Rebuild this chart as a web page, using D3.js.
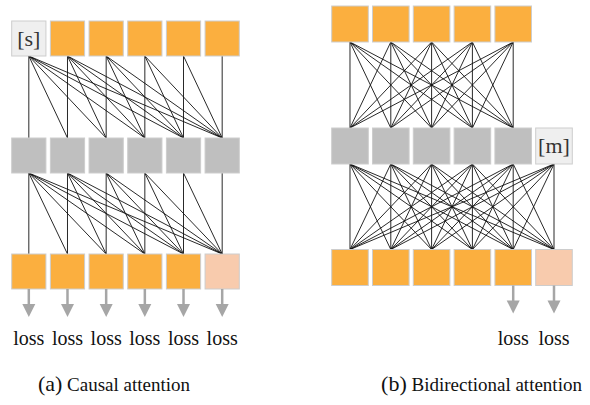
<!DOCTYPE html>
<html>
<head>
<meta charset="utf-8">
<script src="https://cdn.jsdelivr.net/npm/d3@7"></script>
<style>
  body { margin: 0; background: #fff; }
</style>
</head>
<body>
<svg width="590" height="405"></svg>
<script>
// box kinds per row: x = token (orange), s = start, m = mask, h = hidden (gray), p = predicted (peach)
const causalInput  = ['s', 'x', 'x', 'x', 'x', 'x'];
const causalHidden = ['h', 'h', 'h', 'h', 'h', 'h'];
const causalOutput = ['x', 'x', 'x', 'x', 'x', 'p'];
const causalLoss   = [true, true, true, true, true, true];

const bidirInput  = ['x', 'x', 'x', 'x', 'x'];
const bidirHidden = ['h', 'h', 'h', 'h', 'h', 'm'];
const bidirOutput = ['x', 'x', 'x', 'x', 'x', 'p'];
const bidirLoss   = [false, false, false, false, true, true];

const boxLabels = { s: '[s]', m: '[m]' };
const lossLabel = 'loss';
const captions = [['(a)', 'Causal attention'], ['(b)', 'Bidirectional attention']];

const fills = { x: '#FBAF3F', s: '#EFEFEF', m: '#EFEFEF', h: '#BFBFBF', p: '#F8CBAD' };
const serif = 'Liberation Serif';

const svg = d3.select('svg');

// draws one panel
function drawPanel(cfg) {
  const g = svg.append('g');
  const n = cfg.output.length;
  const x = d3.scaleBand().domain(d3.range(n)).range(cfg.xRange).paddingInner(cfg.pad);
  const bw = x.bandwidth();
  const cx = i => x(i) + bw / 2;
  const rows = [cfg.input, cfg.hidden, cfg.output];

  // attention links, drawn first so boxes sit on top
  const links = [];
  rows.slice(0, 2).forEach((row, r) => {
    const next = rows[r + 1];
    row.forEach((a, i) => {
      next.forEach((b, j) => {
        // hidden layer only receives from real tokens in bidirectional case
        if (r === 0 && b === 'm') return;
        if (cfg.causal && j < i) return;
        links.push({ x1: cx(i), y1: cfg.rowY[r] + cfg.bh, x2: cx(j), y2: cfg.rowY[r + 1] });
      });
    });
  });
  g.selectAll('line.link').data(links).enter().append('line')
    .attr('class', 'link')
    .attr('x1', d => d.x1).attr('y1', d => d.y1)
    .attr('x2', d => d.x2).attr('y2', d => d.y2)
    .attr('stroke', '#111').attr('stroke-width', 0.9);

  rows.forEach((row, r) => {
    const cells = row.map((k, i) => ({ k, i }));
    g.selectAll('rect.r' + r).data(cells).enter().append('rect')
      .attr('class', 'r' + r)
      .attr('x', d => x(d.i)).attr('y', cfg.rowY[r])
      .attr('width', bw).attr('height', cfg.bh)
      .attr('fill', d => fills[d.k])
      .attr('stroke', '#cdcdcd').attr('stroke-width', 1);
    g.selectAll('text.r' + r).data(cells.filter(d => boxLabels[d.k])).enter().append('text')
      .attr('class', 'r' + r)
      .attr('x', d => cx(d.i)).attr('y', cfg.rowY[r] + cfg.bh / 2 + 7)
      .attr('text-anchor', 'middle')
      .attr('font-family', serif)
      .attr('font-size', 22).attr('fill', '#333')
      .text(d => boxLabels[d.k]);
  });

  // loss arrows
  const lossIdx = cfg.loss.map((v, i) => v ? i : -1).filter(i => i >= 0);
  const yTop = cfg.rowY[2] + cfg.bh;
  const arrows = g.selectAll('g.arrow').data(lossIdx).enter().append('g').attr('class', 'arrow');
  arrows.append('line')
    .attr('x1', cx).attr('x2', cx)
    .attr('y1', yTop).attr('y2', yTop + 16)
    .attr('stroke', '#a6a6a6').attr('stroke-width', 2.5);
  arrows.append('path')
    .attr('d', i => `M${cx(i) - 6.5},${yTop + 15} L${cx(i) + 6.5},${yTop + 15} L${cx(i)},${yTop + 28} Z`)
    .attr('fill', '#a6a6a6');
  arrows.append('text')
    .attr('x', cx).attr('y', 345)
    .attr('text-anchor', 'middle')
    .attr('font-family', serif)
    .attr('font-size', 20).attr('fill', '#111')
    .text(lossLabel);

  // caption
  const cap = g.append('text').attr('x', cfg.capX).attr('y', 391).attr('fill', '#111')
    .attr('text-anchor', 'middle')
    .attr('font-family', serif);
  cap.append('tspan').attr('font-size', 22).text(cfg.caption[0]);
  cap.append('tspan').attr('font-size', 19).text(' ' + cfg.caption[1]);
}

drawPanel({
  input: causalInput, hidden: causalHidden, output: causalOutput, loss: causalLoss,
  causal: true, xRange: [11.7, 239.3], pad: 0.115, rowY: [21, 138, 254], bh: 35,
  capX: 114, caption: captions[0]
});

drawPanel({
  input: bidirInput, hidden: bidirHidden, output: bidirOutput, loss: bidirLoss,
  causal: false, xRange: [331.7, 572.3], pad: 0.103, rowY: [6, 128, 249.5], bh: 36,
  capX: 481.5, caption: captions[1]
});
</script>
</body>
</html>
